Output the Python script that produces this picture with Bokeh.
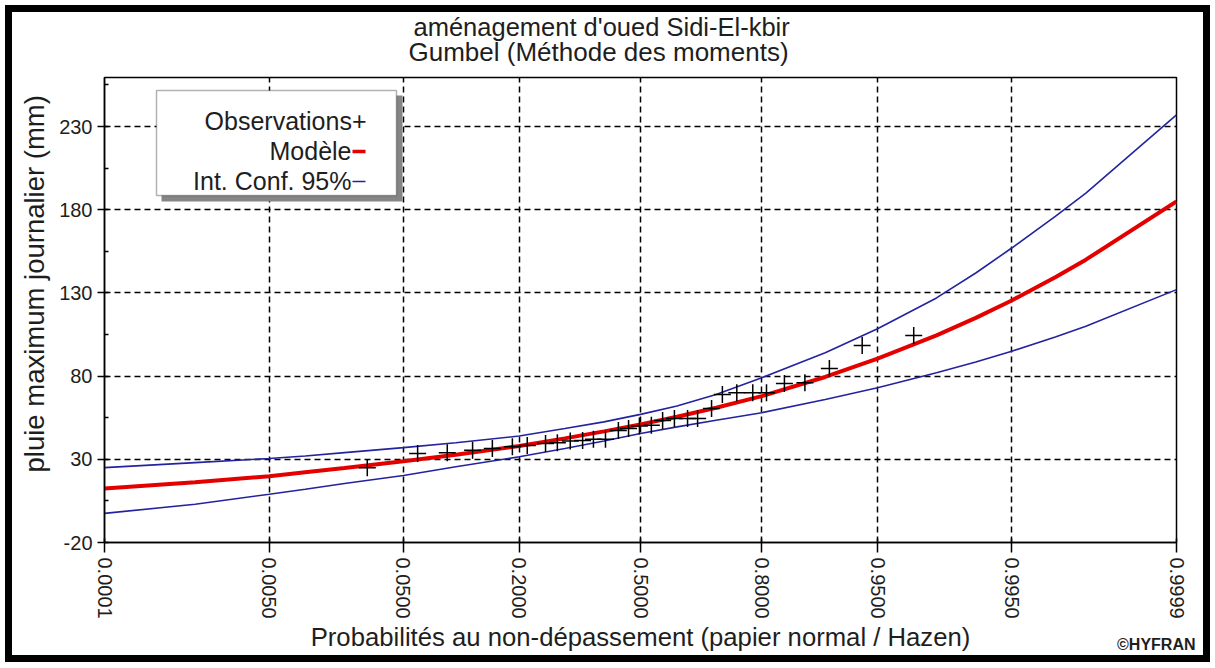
from statistics import NormalDist
from bokeh.plotting import figure
from bokeh.models import (Range1d, FixedTicker, CustomJSTickFormatter, Label,
                          BoxAnnotation, ColumnDataSource, Title)
from bokeh.embed import file_html
from bokeh.resources import INLINE

# ---------------- data ----------------
title_lines = ["aménagement d'oued Sidi-El-kbir", "Gumbel (Méthode des moments)"]
x_label = "Probabilités au non-dépassement (papier normal / Hazen)"
y_label = "pluie maximum journalier (mm)"
credit = "©HYFRAN"

prob_ticks = [0.0001, 0.005, 0.05, 0.2, 0.5, 0.8, 0.95, 0.995, 0.9999]
prob_tick_labels = ["0.0001", "0.0050", "0.0500", "0.2000", "0.5000",
                    "0.8000", "0.9500", "0.9950", "0.9999"]
y_ticks = [-20, 30, 80, 130, 180, 230]
y_minor_ticks = [5, 55, 105, 155, 205, 255]

legend_labels = ["Observations", "Modèle", "Int. Conf. 95%"]

curve_prob = [0.0001, 0.001, 0.005, 0.01, 0.02, 0.05, 0.1, 0.2, 0.3, 0.4, 0.5,
              0.6, 0.7, 0.8, 0.9, 0.95, 0.98, 0.99, 0.995, 0.998, 0.999, 0.9999]
model_mm = [12.5, 16.2, 19.8, 22.2, 24.8, 28.8, 32.8, 38.0, 42.6, 46.8, 51.0,
            55.6, 61.0, 68.0, 79.5, 90.5, 104.5, 115.0, 125.5, 139.5, 150.0, 185.0]
ci_low_mm = [-2.5, 3.0, 9.0, 12.0, 15.5, 20.3, 25.5, 31.5, 36.5, 41.0, 45.5,
             49.5, 53.5, 58.0, 66.0, 73.0, 82.0, 88.5, 95.0, 103.5, 110.0, 132.0]
ci_high_mm = [25.0, 28.0, 30.5, 32.0, 34.0, 37.0, 40.0, 44.0, 48.5, 52.5, 57.0,
              62.0, 69.0, 79.0, 94.0, 108.5, 127.0, 142.0, 157.0, 176.0, 190.0, 237.0]

obs_prob = [0.029, 0.061, 0.090, 0.122, 0.152, 0.187, 0.216, 0.255, 0.282, 0.313,
            0.344, 0.372, 0.404, 0.439, 0.467, 0.497, 0.530, 0.561, 0.593, 0.628,
            0.654, 0.689, 0.715, 0.748, 0.782, 0.809, 0.841, 0.873, 0.905, 0.938, 0.971]
obs_mm = [25.0, 33.5, 34.0, 35.5, 36.5, 37.5, 38.3, 39.5, 40.0, 41.0,
          41.3, 42.0, 42.0, 47.3, 48.5, 50.0, 50.5, 53.3, 54.5, 54.5,
          54.5, 60.5, 69.0, 70.0, 70.0, 70.0, 75.5, 76.0, 84.6, 98.4, 104.4]

# ------------- normal probability paper scale -------------
nd = NormalDist()
def zscale(ps):
    return [nd.inv_cdf(v) for v in ps]

FONT = "Liberation Sans"
TXT = "#1e1e1e"
BLUE = "#2323a0"
RED = "#e50000"

# canvas sits inside a 7px black window frame with a 5px margin
W, H = 1191, 643
p = figure(width=W, height=H, output_backend="svg", toolbar_location=None,
           x_range=Range1d(nd.inv_cdf(prob_ticks[0]), nd.inv_cdf(prob_ticks[-1])),
           y_range=Range1d(-20, 259.5),
           min_border_left=92, min_border_right=41,
           min_border_top=65, min_border_bottom=127)
p.styles = {"border": "7px solid black", "margin": "5px 5px 6px 5px",
            "box-sizing": "content-box"}
p.background_fill_color = "white"
p.border_fill_color = "white"
p.outline_line_color = "black"
p.outline_line_width = 1.5

# axes
p.xaxis.ticker = FixedTicker(ticks=zscale(prob_ticks))
p.xaxis.formatter = CustomJSTickFormatter(args=dict(labs=prob_tick_labels),
                                          code="return labs[index];")
p.xaxis.major_label_orientation = "vertical"
p.yaxis.ticker = FixedTicker(ticks=y_ticks, minor_ticks=y_minor_ticks)
p.yaxis.major_label_overrides = {v: str(v) for v in y_ticks}
for ax in (p.xaxis[0], p.yaxis[0]):
    ax.axis_line_color = "black"
    ax.axis_line_width = 1.5
    ax.major_tick_line_color = "black"
    ax.major_tick_line_width = 1.5
    ax.major_label_text_font = FONT
    ax.major_label_text_font_size = "20px"
    ax.major_label_text_color = TXT
    ax.major_label_standoff = 5
    ax.axis_label_text_font = FONT
    ax.axis_label_text_font_size = "25.7px"
    ax.axis_label_text_font_style = "normal"
    ax.axis_label_text_color = TXT
p.xaxis.major_tick_out = 10
p.xaxis.major_tick_in = 4
p.xaxis.minor_tick_line_color = None
p.yaxis.major_tick_out = 7
p.yaxis.major_tick_in = 4
p.yaxis.minor_tick_line_color = "black"
p.yaxis.minor_tick_line_width = 1.5
p.yaxis.minor_tick_in = 4
p.yaxis.minor_tick_out = 0
p.xaxis.axis_label = x_label
p.xaxis.axis_label_standoff = 1

# grid
for g in (p.xgrid[0], p.ygrid[0]):
    g.grid_line_color = "black"
    g.grid_line_width = 1.5
    g.grid_line_dash = "6 4"
p.xgrid.ticker = p.xaxis.ticker
p.ygrid.ticker = p.yaxis.ticker

# data glyphs
cs = ColumnDataSource(dict(z=zscale(curve_prob), m=model_mm, lo=ci_low_mm, hi=ci_high_mm))
p.line("z", "hi", source=cs, line_color=BLUE, line_width=1.6)
p.line("z", "lo", source=cs, line_color=BLUE, line_width=1.6)
p.line("z", "m", source=cs, line_color=RED, line_width=4)
os_ = ColumnDataSource(dict(z=zscale(obs_prob), v=obs_mm))
p.scatter("z", "v", source=os_, marker="cross", size=17, line_color="black",
          line_width=1.5)

# legend box with shadow (canvas pixels)
def cbox(l, r, t, b, **kw):
    return BoxAnnotation(left=l, right=r, top=t, bottom=b,
                         left_units="canvas", right_units="canvas",
                         top_units="canvas", bottom_units="canvas", **kw)

p.add_layout(cbox(142, 383, 76, 182, fill_color="#858585", fill_alpha=1, line_color=None))
p.add_layout(cbox(137, 377, 71, 176, fill_color="white", fill_alpha=1,
                  line_color="black", line_width=1.5))
leg_y = [101, 131, 161]
p.add_layout(Label(x=347, y=leg_y[0], text=legend_labels[0] + "+", text_align="right",
                   text_baseline="middle", x_units="canvas", y_units="canvas",
                   text_font=FONT, text_font_size="25px", text_color=TXT))
for txt, yy, col, th in [(legend_labels[1], leg_y[1], RED, 3.5),
                         (legend_labels[2], leg_y[2], BLUE, 1.6)]:
    p.add_layout(Label(x=332, y=yy, text=txt, text_align="right",
                       text_baseline="middle", x_units="canvas", y_units="canvas",
                       text_font=FONT, text_font_size="25px", text_color=TXT))
    p.add_layout(cbox(333, 346, yy + 1 - th / 2, yy + 1 + th / 2,
                      fill_color=col, fill_alpha=1, line_color=None))

# two-line title (nearest to frame first)
t2 = Title(text=title_lines[1], align="left", offset=304, vertical_align="middle",
           standoff=19, text_font=FONT, text_font_size="26px",
           text_font_style="normal", text_color=TXT)
t1 = Title(text=title_lines[0], align="left", offset=309, vertical_align="middle",
           standoff=-31, text_font=FONT, text_font_size="25.5px",
           text_font_style="normal", text_color=TXT)
p.add_layout(t2, "above")
p.add_layout(t1, "above")

# y axis title
ty = Title(text=y_label, align="left", offset=70, vertical_align="middle",
           standoff=11, text_font=FONT, text_font_size="27.5px",
           text_font_style="normal", text_color=TXT)
p.add_layout(ty, "left")

# credit
tc = Title(text=credit, align="right", offset=-19, vertical_align="top",
           standoff=-36, text_font=FONT, text_font_size="16px",
           text_font_style="bold", text_color=TXT)
p.add_layout(tc, "below")

open("out.html", "w").write(file_html(p, INLINE))
